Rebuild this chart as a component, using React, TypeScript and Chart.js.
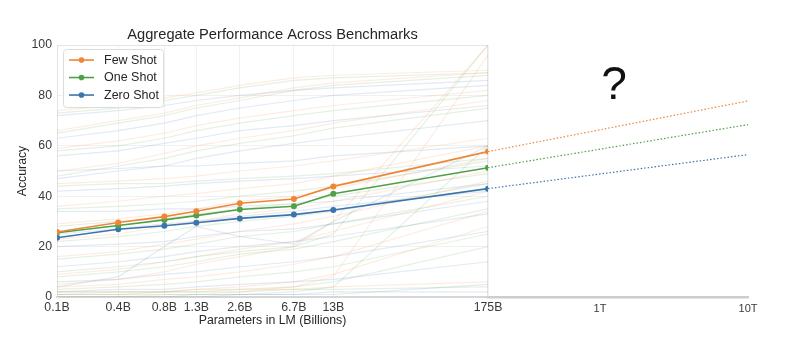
import React, { useEffect, useRef } from "react";
import { Chart, registerables } from "chart.js";
Chart.register(...registerables);

// ---------- data ----------
const modelSizes = [0.125, 0.35, 0.76, 1.3, 2.7, 6.7, 13, 175];
const sizeLabels = ["0.1B", "0.4B", "0.8B", "1.3B", "2.6B", "6.7B", "13B", "175B"];

const fewShot = [25.8, 29.6, 31.9, 34.0, 37.2, 38.9, 43.9, 57.7];
const oneShot = [25.5, 28.4, 30.6, 32.3, 34.7, 36.0, 41.0, 51.3];
const zeroShot = [23.5, 26.9, 28.3, 29.5, 31.2, 32.7, 34.5, 43.0];

const extrapSizes = [175, 10000];
const fewShotExtrap = [57.7, 77.8];
const oneShotExtrap = [51.3, 68.4];
const zeroShotExtrap = [43.0, 56.5];
const extrapTicks = [1000, 10000];
const extrapTickLabels = ["1T", "10T"];

const seriesNames = ["Few Shot", "One Shot", "Zero Shot"];

// per-benchmark faint lines (values at each model size)
const fewShotBenchmarks = [
  [66, 70, 73, 76, 79, 83, 85, 89],
  [59, 62, 65, 68, 71, 74, 76, 82],
  [50, 53, 57, 60, 63, 66, 69, 78],
  [36, 38, 40, 41, 43, 45, 48, 60],
  [29, 31, 33, 35, 38, 40, 43, 55],
  [23, 25, 28, 30, 33, 35, 38, 50],
  [16, 18, 21, 23, 26, 29, 32, 46],
  [9, 11, 14, 16, 19, 22, 26, 42],
  [4, 5, 7, 8, 10, 13, 16, 34],
  [1, 2, 2, 3, 4, 6, 9, 28],
  [0, 0, 1, 1, 2, 4, 8, 96],
  [2, 2, 2, 3, 3, 3, 4, 6],
  [74, 76, 79, 81, 84, 87, 88, 90],
  [45, 46, 47, 48, 50, 52, 54, 63],
  [5, 7, 10, 13, 16, 20, 30, 100],
];
const oneShotBenchmarks = [
  [65, 69, 72, 75, 78, 82, 84, 88],
  [58, 60, 63, 66, 69, 72, 74, 80],
  [48, 52, 55, 58, 61, 64, 67, 75],
  [35, 36, 37, 38, 40, 42, 44, 54],
  [28, 30, 31, 33, 35, 37, 40, 49],
  [22, 24, 26, 28, 30, 32, 34, 45],
  [15, 17, 19, 21, 24, 26, 29, 40],
  [8, 10, 12, 14, 17, 19, 22, 35],
  [3, 4, 5, 6, 8, 10, 12, 25],
  [1, 1, 2, 2, 3, 4, 6, 20],
  [0, 0, 0, 1, 1, 2, 4, 60],
  [2, 2, 2, 2, 2, 3, 3, 4],
  [73, 75, 78, 80, 83, 86, 87, 89],
  [44, 45, 45, 46, 47, 48, 49, 55],
  [10, 12, 14, 16, 18, 20, 25, 100],
];
const zeroShotBenchmarks = [
  [63, 66, 69, 72, 75, 78, 80, 84],
  [56, 58, 61, 63, 66, 68, 70, 76],
  [47, 50, 52, 55, 58, 61, 63, 70],
  [42, 43, 44, 45, 46, 47, 48, 52],
  [34, 34, 35, 35, 36, 37, 38, 45],
  [25, 27, 29, 30, 32, 34, 36, 42],
  [20, 21, 22, 24, 26, 27, 29, 38],
  [12, 14, 16, 18, 20, 22, 24, 33],
  [6, 7, 9, 10, 12, 14, 16, 26],
  [2, 3, 3, 4, 5, 6, 7, 14],
  [0, 0, 0, 0, 1, 1, 1, 5],
  [1, 1, 1, 1, 1, 1, 2, 2],
  [72, 74, 76, 78, 80, 82, 83, 86],
  [4, 8, 20, 28, 24, 21, 30, 60],
  [50, 51, 52, 52, 53, 54, 56, 60],
];

// ---------- styles ----------
const FONT = "'Liberation Sans', Arial, Helvetica, sans-serif";
const ORANGE = "#ef8636";
const GREEN = "#4fa046";
const BLUE = "#3b75af";
const FAINT = ["rgba(239,134,54,0.15)", "rgba(79,160,70,0.15)", "rgba(59,117,175,0.15)"];
const GRID = "#f1f1f1";
const TEXT = "#262626";
const TICK = "#3a3a3a";

const toPoints = (xs: number[], ys: number[]) => xs.map((x, i) => ({ x, y: ys[i] }));

const framePlugin = {
  id: "frame",
  beforeDatasetsDraw(chart: any) {
    const { ctx, chartArea: a } = chart;
    ctx.save();
    ctx.strokeStyle = "#e4e4e4";
    ctx.lineWidth = 1;
    ctx.beginPath();
    ctx.moveTo(a.left, a.top + 0.5);
    ctx.lineTo(a.right - 0.5, a.top + 0.5);
    ctx.lineTo(a.right - 0.5, a.bottom);
    ctx.stroke();
    ctx.restore();
  },
};

const legendPlugin = {
  id: "boxLegend",
  afterDraw(chart: any) {
    const { ctx, chartArea: a } = chart;
    const mains = chart.data.datasets.filter((d: any) => d.isMain);
    const x0 = a.left + 6;
    const y0 = a.top + 4;
    const w = 100;
    const h = 58;
    ctx.save();
    ctx.fillStyle = "rgba(255,255,255,0.85)";
    ctx.strokeStyle = "#dcdcdc";
    ctx.lineWidth = 1;
    ctx.beginPath();
    (ctx as any).roundRect(x0 + 0.5, y0 + 0.5, w, h, 3);
    ctx.fill();
    ctx.stroke();
    mains.forEach((d: any, i: number) => {
      const y = y0 + 11 + i * 17.5;
      ctx.strokeStyle = d.borderColor;
      ctx.lineWidth = 1.6;
      ctx.beginPath();
      ctx.moveTo(x0 + 6, y);
      ctx.lineTo(x0 + 31, y);
      ctx.stroke();
      ctx.fillStyle = d.borderColor;
      ctx.beginPath();
      ctx.arc(x0 + 18.5, y, 2.8, 0, Math.PI * 2);
      ctx.fill();
      ctx.fillStyle = TEXT;
      ctx.font = `12.5px ${FONT}`;
      ctx.textBaseline = "middle";
      ctx.textAlign = "left";
      ctx.fillText(d.label, x0 + 41, y + 0.5);
    });
    ctx.restore();
  },
};

const questionPlugin = {
  id: "question",
  afterDraw(chart: any) {
    const { ctx } = chart;
    ctx.save();
    ctx.fillStyle = "#111";
    ctx.font = `46px ${FONT}`;
    ctx.textAlign = "center";
    ctx.textBaseline = "alphabetic";
    ctx.fillText("?", 144, 99);
    ctx.restore();
  },
};

function leftConfig(): any {
  const mainColors = [ORANGE, GREEN, BLUE];
  const mainValues = [fewShot, oneShot, zeroShot];
  const mains = mainValues.map((vals, i) => ({
    label: seriesNames[i],
    isMain: true,
    data: toPoints(modelSizes, vals),
    borderColor: mainColors[i],
    backgroundColor: mainColors[i],
    borderWidth: 1.6,
    pointRadius: 3,
    pointBorderWidth: 0,
    pointBackgroundColor: mainColors[i],
    tension: 0,
  }));
  const faintGroups = [fewShotBenchmarks, oneShotBenchmarks, zeroShotBenchmarks];
  const faint: any[] = [];
  faintGroups.forEach((group, gi) => {
    group.forEach((vals, j) => {
      faint.push({
        label: `${seriesNames[gi]} benchmark ${j + 1}`,
        data: toPoints(modelSizes, vals),
        borderColor: FAINT[gi],
        borderWidth: 1.2,
        pointRadius: 0,
        tension: 0,
      });
    });
  });
  return {
    type: "line",
    data: { datasets: [...mains, ...faint] },
    options: {
      animation: false,
      responsive: false,
      devicePixelRatio: 1,
      layout: { padding: { left: 0, right: 32, top: 0, bottom: 0 } },
      plugins: {
        legend: { display: false },
        tooltip: { enabled: false },
        title: {
          display: true,
          fullSize: false,
          text: "Aggregate Performance Across Benchmarks",
          color: TEXT,
          font: { family: FONT, size: 14.7, weight: "normal" },
          padding: { top: 26.2, bottom: 1.2 },
        },
      },
      scales: {
        x: {
          type: "logarithmic",
          min: 0.125,
          max: 175,
          afterBuildTicks: (s: any) => {
            s.ticks = modelSizes.map((v) => ({ value: v }));
          },
          afterFit: (s: any) => {
            s.height = 67;
          },
          ticks: {
            autoSkip: false,
            maxRotation: 0,
            padding: 3,
            color: TICK,
            font: { family: FONT, size: 12.3 },
            callback: (v: number) => {
              const i = modelSizes.findIndex((m) => Math.abs(m - v) < 1e-9);
              return i >= 0 ? sizeLabels[i] : "";
            },
          },
          grid: { color: GRID, drawTicks: false, lineWidth: 1 },
          border: { color: "#d6d6d6", width: 2 },
          title: {
            display: true,
            text: "Parameters in LM (Billions)",
            color: TEXT,
            font: { family: FONT, size: 12.3 },
            padding: { top: 0, bottom: 36 },
          },
        },
        y: {
          type: "linear",
          min: 0,
          max: 100,
          afterFit: (s: any) => {
            s.width = 57;
          },
          ticks: {
            stepSize: 20,
            padding: 5,
            color: TICK,
            font: { family: FONT, size: 12.3 },
          },
          grid: { color: GRID, drawTicks: false, lineWidth: 1 },
          border: { color: "#e4e4e4", width: 1 },
          title: {
            display: true,
            text: "Accuracy",
            color: TEXT,
            font: { family: FONT, size: 12.3 },
            padding: { top: 15, bottom: 0 },
          },
        },
      },
    },
    plugins: [framePlugin, legendPlugin],
  };
}

function rightConfig(): any {
  const colors = [ORANGE, GREEN, BLUE];
  const vals = [fewShotExtrap, oneShotExtrap, zeroShotExtrap];
  return {
    type: "line",
    data: {
      datasets: vals.map((v, i) => ({
        label: `${seriesNames[i]} (extrapolated)`,
        data: toPoints(extrapSizes, v),
        borderColor: colors[i],
        borderWidth: 1.2,
        borderDash: [1.5, 2],
        pointRadius: 0,
        tension: 0,
        clip: false,
      })),
    },
    options: {
      animation: false,
      responsive: false,
      devicePixelRatio: 1,
      layout: { padding: { left: 18, right: 52, top: 45, bottom: 0 } },
      plugins: { legend: { display: false }, tooltip: { enabled: false }, title: { display: false } },
      scales: {
        x: {
          type: "logarithmic",
          min: 175,
          max: 10000,
          afterBuildTicks: (s: any) => {
            s.ticks = extrapTicks.map((v) => ({ value: v }));
          },
          afterFit: (s: any) => {
            s.height = 67;
          },
          ticks: {
            autoSkip: false,
            maxRotation: 0,
            padding: 5,
            color: TICK,
            font: { family: FONT, size: 11 },
            callback: (v: number) => {
              const i = extrapTicks.indexOf(v);
              return i >= 0 ? extrapTickLabels[i] : "";
            },
          },
          grid: { display: false, drawTicks: false },
          border: { color: "#cdcdcd", width: 2.5 },
        },
        y: { type: "linear", min: 0, max: 100, display: false },
      },
    },
    plugins: [questionPlugin],
  };
}

export default function App() {
  const leftRef = useRef<HTMLCanvasElement>(null);
  const rightRef = useRef<HTMLCanvasElement>(null);
  useEffect(() => {
    const left = new Chart(leftRef.current as HTMLCanvasElement, leftConfig());
    const right = new Chart(rightRef.current as HTMLCanvasElement, rightConfig());
    return () => {
      left.destroy();
      right.destroy();
    };
  }, []);
  return (
    <div
      style={{
        position: "fixed",
        left: 0,
        top: 0,
        width: 800,
        height: 364,
        background: "#ffffff",
        overflow: "hidden",
      }}
    >
      <canvas
        ref={leftRef}
        width={520}
        height={364}
        style={{ position: "absolute", left: 0, top: 0, width: 520, height: 364 }}
      />
      <canvas
        ref={rightRef}
        width={330}
        height={364}
        style={{ position: "absolute", left: 470, top: 0, width: 330, height: 364 }}
      />
    </div>
  );
}
